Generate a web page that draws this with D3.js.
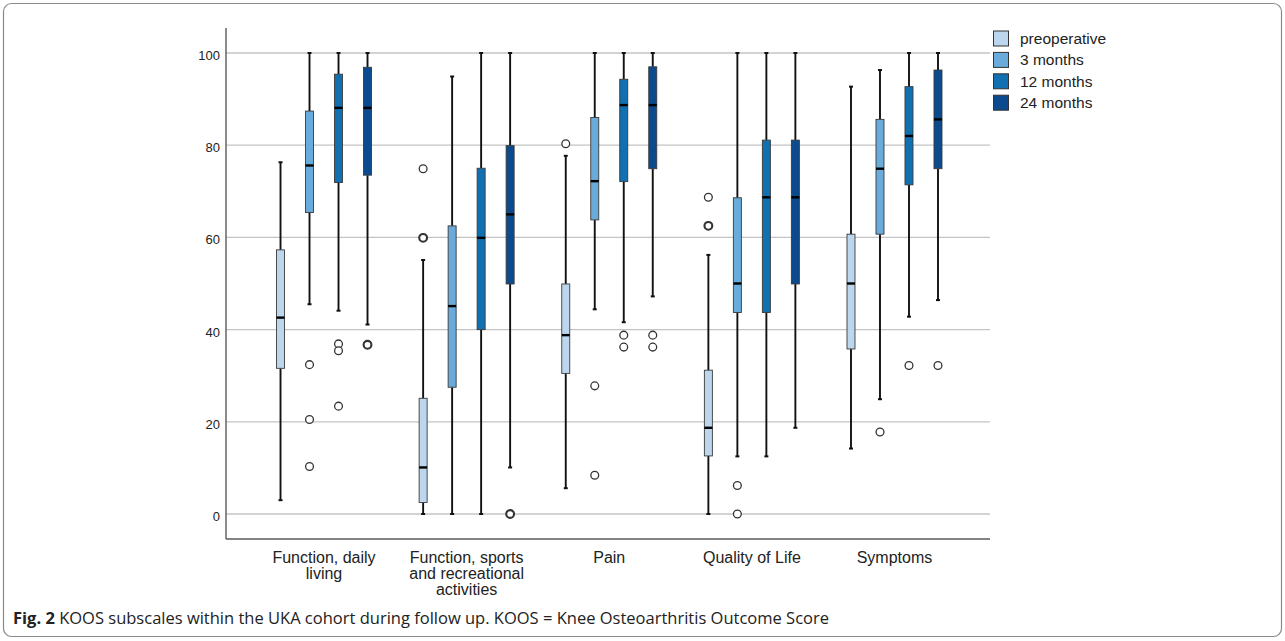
<!DOCTYPE html>
<html>
<head>
<meta charset="utf-8">
<script src="https://cdn.jsdelivr.net/npm/d3@7.9.0/dist/d3.min.js"></script>
<style>
  html, body { margin: 0; padding: 0; background: #fff; }
  svg { display: block; }
</style>
</head>
<body>
<div id="chart"></div>
<script>
// subscales (x categories) and their wrapped tick labels
const subscales = ['FDL', 'FSR', 'Pain', 'QoL', 'Symptoms'];
const subscaleLabels = [
  ['Function, daily', 'living'],
  ['Function, sports', 'and recreational', 'activities'],
  ['Pain'],
  ['Quality of Life'],
  ['Symptoms']
];

const timepoints = ['preoperative', '3 months', '12 months', '24 months'];
const colors = ['#bcd6ee', '#69acdb', '#1170b1', '#0b4a8c'];

// [whisker low, q1, median, q3, whisker high] per subscale
const preop    = [[3.0, 31.6, 42.6, 57.3, 76.3], [0, 2.5, 10.1, 25.1, 55.1], [5.6, 30.5, 38.8, 49.9, 77.7], [0, 12.6, 18.7, 31.2, 56.2], [14.2, 35.8, 50.0, 60.7, 92.7]];
const month3   = [[45.5, 65.4, 75.6, 87.4, 100], [0, 27.5, 45.1, 62.5, 94.9], [44.4, 63.8, 72.2, 86.0, 100], [12.5, 43.7, 50.0, 68.6, 100], [24.9, 60.7, 74.9, 85.6, 96.3]];
const month12  = [[44.1, 71.9, 88.1, 95.4, 100], [0, 40.0, 59.9, 75.0, 100], [41.6, 72.1, 88.7, 94.3, 100], [12.5, 43.7, 68.7, 81.1, 100], [42.8, 71.4, 82.0, 92.7, 100]];
const month24  = [[41.1, 73.5, 88.1, 96.9, 100], [10.1, 49.9, 65.0, 79.9, 100], [47.2, 74.9, 88.7, 97.0, 100], [18.7, 49.9, 68.7, 81.1, 100], [46.4, 74.9, 85.6, 96.3, 100]];

// outliers per subscale (repeated values = overlapping cases)
const preopOut   = [[], [74.9, 59.9, 59.9], [80.3], [68.7, 62.5, 62.5], []];
const month3Out  = [[32.4, 20.5, 10.3], [], [27.8, 8.4], [6.2, 0], [17.8]];
const month12Out = [[36.9, 35.4, 23.4], [], [38.8, 36.2], [], [32.2]];
const month24Out = [[36.7, 36.7], [0, 0], [38.8, 36.2], [], [32.2]];

const yTicks = [0, 20, 40, 60, 80, 100];

const stats = [preop, month3, month12, month24];
const outs = [preopOut, month3Out, month12Out, month24Out];

const width = 1285, height = 641;
const svg = d3.select('#chart').append('svg')
  .attr('width', width).attr('height', height)
  .style('font-family', '"Liberation Sans", Arial, sans-serif');

// outer frame
svg.append('rect')
  .attr('x', 3.5).attr('y', 3.5)
  .attr('width', width - 7).attr('height', height - 8)
  .attr('rx', 8)
  .attr('fill', 'none').attr('stroke', '#8a8a8a').attr('stroke-width', 1.2);

const plot = { left: 226, right: 990, top: 28, bottom: 539 };

const yScale = d3.scaleLinear().domain([-5.42, 105.42]).range([plot.bottom, plot.top]);
const xScale = d3.scaleBand().domain(subscales).range([252.7, 965.8]);
const sub = d3.scalePoint().domain(timepoints).range([-43.5, 43.5]);
const boxW = 8;

// gridlines
svg.append('g').selectAll('line').data(yTicks).join('line')
  .attr('x1', plot.left).attr('x2', plot.right)
  .attr('y1', d => yScale(d)).attr('y2', d => yScale(d))
  .attr('stroke', '#c4c4c4').attr('stroke-width', 1.3);

// y axis
const yAxis = svg.append('g')
  .attr('transform', `translate(${plot.left},0)`)
  .call(d3.axisLeft(yScale).tickValues(yTicks).tickSize(0).tickPadding(6));
yAxis.select('.domain').remove();
yAxis.selectAll('text')
  .style('font-family', '"Liberation Sans", Arial, sans-serif')
  .attr('font-size', 13).attr('fill', '#222').attr('dy', '0.5em');

svg.append('line')
  .attr('x1', plot.left).attr('x2', plot.left)
  .attr('y1', plot.top).attr('y2', plot.bottom)
  .attr('stroke', '#5a5a5a').attr('stroke-width', 1.4);
svg.append('line')
  .attr('x1', plot.left).attr('x2', plot.right)
  .attr('y1', plot.bottom).attr('y2', plot.bottom)
  .attr('stroke', '#5a5a5a').attr('stroke-width', 1.4);

// x labels
const xl = svg.append('g');
subscales.forEach((s, i) => {
  const cx = xScale(s) + xScale.bandwidth() / 2;
  const t = xl.append('text')
    .attr('x', cx).attr('y', 563)
    .attr('text-anchor', 'middle')
    .attr('font-size', 16).attr('fill', '#222');
  subscaleLabels[i].forEach((line, j) => {
    t.append('tspan').attr('x', cx).attr('y', 563 + j * 16).text(line);
  });
});

// boxes
const boxes = svg.append('g');
timepoints.forEach((tp, k) => {
  subscales.forEach((s, i) => {
    const [lo, q1, med, q3, hi] = stats[k][i];
    const cx = xScale(s) + xScale.bandwidth() / 2 + sub(tp);
    const g = boxes.append('g');
    // whiskers
    g.append('line').attr('x1', cx).attr('x2', cx)
      .attr('y1', yScale(hi)).attr('y2', yScale(q3))
      .attr('stroke', '#111').attr('stroke-width', 1.9);
    g.append('line').attr('x1', cx).attr('x2', cx)
      .attr('y1', yScale(q1)).attr('y2', yScale(lo))
      .attr('stroke', '#111').attr('stroke-width', 1.9);
    // caps
    [lo, hi].forEach(v => {
      g.append('line').attr('x1', cx - 2).attr('x2', cx + 2)
        .attr('y1', yScale(v)).attr('y2', yScale(v))
        .attr('stroke', '#111').attr('stroke-width', 2);
    });
    g.append('rect')
      .attr('x', cx - boxW / 2).attr('width', boxW)
      .attr('y', yScale(q3)).attr('height', yScale(q1) - yScale(q3))
      .attr('fill', colors[k]).attr('stroke', '#3a3a3a').attr('stroke-width', 0.9);
    g.append('line')
      .attr('x1', cx - boxW / 2).attr('x2', cx + boxW / 2)
      .attr('y1', yScale(med)).attr('y2', yScale(med))
      .attr('stroke', '#000').attr('stroke-width', 2.4);

    // outliers
    const counts = d3.rollup(outs[k][i], v => v.length, d => d);
    for (const [v, n] of counts) {
      g.append('circle')
        .attr('cx', cx).attr('cy', yScale(v)).attr('r', 3.9)
        .attr('fill', '#fff').attr('stroke', '#333')
        .attr('stroke-width', n > 1 ? 2.1 : 1.3);
    }
  });
});

// legend
const legend = svg.append('g');
timepoints.forEach((tp, k) => {
  const y = 31 + k * 21.4;
  legend.append('rect')
    .attr('x', 993.5).attr('y', y).attr('width', 15).attr('height', 15)
    .attr('fill', colors[k]).attr('stroke', '#333').attr('stroke-width', 1);
  legend.append('text')
    .attr('x', 1020).attr('y', y + 13)
    .attr('font-size', 15.5).attr('fill', '#222')
    .text(tp);
});

// caption
const cap = svg.append('text')
  .attr('x', 13).attr('y', 624)
  .attr('font-family', '"Open Sans", "Noto Sans", sans-serif')
  .attr('font-size', 16).attr('fill', '#222')
  .attr('textLength', 816).attr('lengthAdjust', 'spacingAndGlyphs');
cap.append('tspan').attr('font-weight', 'bold').text('Fig. 2');
cap.append('tspan').text(' KOOS subscales within the UKA cohort during follow up. KOOS = Knee Osteoarthritis Outcome Score');
</script>
</body>
</html>
